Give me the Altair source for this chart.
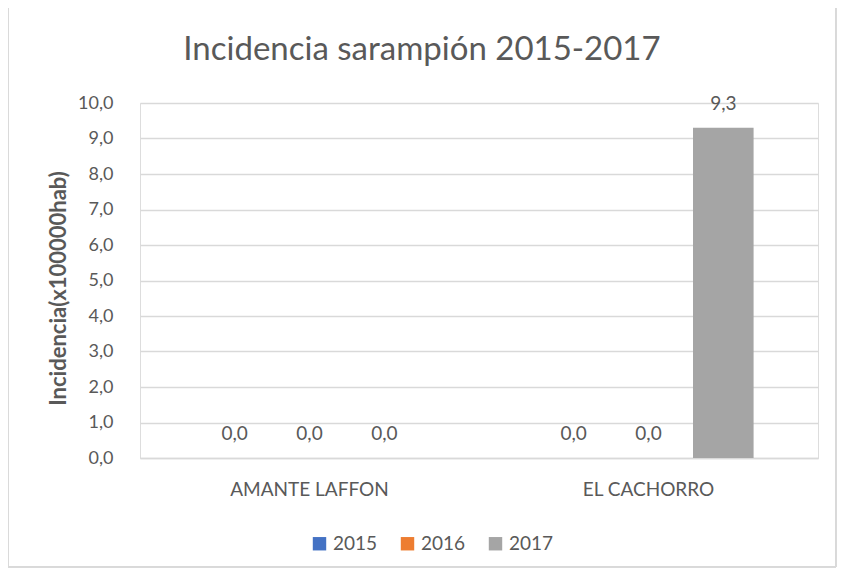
import altair as alt
import pandas as pd

towns = ["AMANTE LAFFON", "EL CACHORRO"]
years = ["2015", "2016", "2017"]
values = {
    "AMANTE LAFFON": [0.0, 0.0, 0.0],
    "EL CACHORRO": [0.0, 0.0, 9.3],
}
colors = ["#4472C4", "#ED7D31", "#A5A5A5"]
y_ticks = [0, 1, 2, 3, 4, 5, 6, 7, 8, 9, 10]
title_text = "Incidencia sarampión 2015-2017"

rows = []
for t in towns:
    for y, v in zip(years, values[t]):
        rows.append({"municipio": t, "anio": y, "valor": v})
df = pd.DataFrame(rows)

FONT = "Lato"
GREY = "#595959"

x = alt.X("municipio:N", sort=towns, title=None,
          scale=alt.Scale(paddingInner=0.38, paddingOuter=0.19),
          axis=alt.Axis(labelAngle=0, labelFontSize=19, labelColor=GREY, labelFont=FONT,
                        labelPadding=22, ticks=False, domainColor="#d9d9d9", domainWidth=1.5))
xo = alt.XOffset("anio:N", sort=years, scale=alt.Scale(paddingInner=0.19, paddingOuter=0.0))
yenc = alt.Y("valor:Q", scale=alt.Scale(domain=[0, 10], nice=False),
             axis=alt.Axis(values=y_ticks, labelExpr="replace(format(datum.value, '.1f'), '.', ',')",
                           labelFontSize=18, labelColor=GREY, labelFont=FONT, labelPadding=27,
                           labelOverlap=False,
                           ticks=False, domain=False, gridColor="#d9d9d9", gridWidth=1.5,
                           title="Incidencia(x100000hab)", titleFont=FONT, titleFontSize=22,
                           titleFontWeight="bold", titleColor=GREY, titleX=-70, titleY=185,
                           titleAngle=-90))

border = alt.Chart(df).mark_rect(fill=None, stroke="#d9d9d9", strokeWidth=1).encode(
    x=alt.value(-132), x2=alt.value(696), y=alt.value(-97), y2=alt.value(464)
)

bars = alt.Chart(df).mark_bar().encode(
    x=x, xOffset=xo, y=yenc,
    color=alt.Color("anio:N", sort=years, scale=alt.Scale(domain=years, range=colors),
                    legend=alt.Legend(title=None, orient="none", direction="horizontal",
                                      legendX=170, legendY=431, symbolType="square",
                                      symbolSize=180, labelFontSize=19, labelColor=GREY,
                                      labelFont=FONT, columnPadding=20, symbolStrokeWidth=0)),
)

labels = alt.Chart(df).transform_calculate(
    lbl="replace(format(datum.valor, '.1f'), '.', ',')"
).mark_text(dy=-14, fontSize=19, color=GREY, font=FONT, baseline="bottom").encode(
    x=x, xOffset=xo, y=yenc, text="lbl:N"
)

title = alt.Chart(pd.DataFrame({"t": [title_text]})).mark_text(
    fontSize=33, font=FONT, fontWeight=400, color=GREY, align="center", baseline="middle"
).encode(text="t:N", x=alt.value(282), y=alt.value(-53))

chart = (border + bars + labels + title).properties(
    width=678, height=355,
    autosize=alt.AutoSizeParams(type="none"),
    padding={"left": 132, "top": 95, "right": 20, "bottom": 110},
).configure_view(stroke=None).configure_axis(labelOverlap=False).configure(background="white")

chart.save("out.html", embed_options={"renderer": "svg", "actions": False})
